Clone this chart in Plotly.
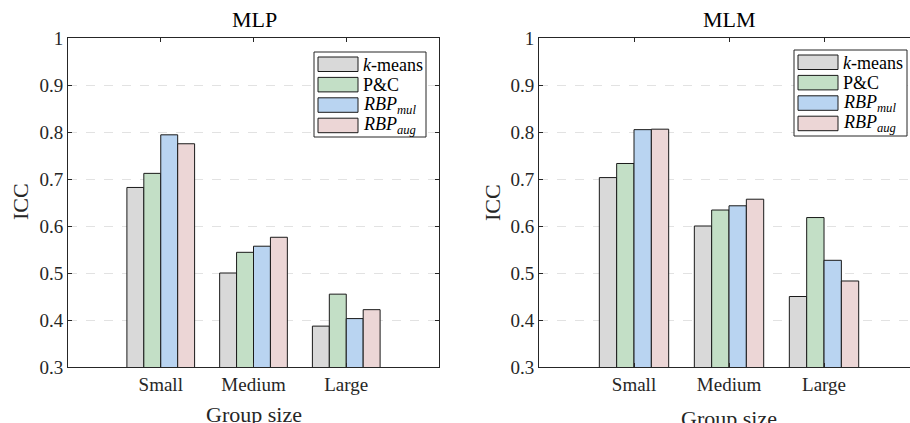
import plotly.graph_objects as go

categories = ["Small", "Medium", "Large"]
series_names = ["<i>k</i>-means", "P&amp;C", "<i>RBP</i><sub><i>mul</i></sub>", "<i>RBP</i><sub><i>aug</i></sub>"]
colors = ["#d9d9d9", "#c3dfc6", "#b9d4f1", "#ecd6d6"]

mlp_kmeans = [0.682, 0.500, 0.387]
mlp_pc = [0.712, 0.544, 0.455]
mlp_mul = [0.794, 0.557, 0.403]
mlp_aug = [0.775, 0.576, 0.422]

mlm_kmeans = [0.703, 0.600, 0.450]
mlm_pc = [0.733, 0.634, 0.618]
mlm_mul = [0.805, 0.643, 0.527]
mlm_aug = [0.806, 0.657, 0.483]

y_ticks = [0.3, 0.4, 0.5, 0.6, 0.7, 0.8, 0.9, 1.0]
y_ticktext = ["0.3", "0.4", "0.5", "0.6", "0.7", "0.8", "0.9", "1"]

W, H = 910, 423
FONT = "Liberation Serif, Times New Roman, serif"
TXT = "#262626"

fig = go.Figure()
panels = [
    ("x", "y", [mlp_kmeans, mlp_pc, mlp_mul, mlp_aug]),
    ("x2", "y2", [mlm_kmeans, mlm_pc, mlm_mul, mlm_aug]),
]
for xa, ya, vals in panels:
    for name, col, v in zip(series_names, colors, vals):
        fig.add_trace(go.Bar(
            x=categories, y=v, name=name, xaxis=xa, yaxis=ya,
            marker=dict(color=col, line=dict(color="#1a1a1a", width=1)),
            showlegend=False,
        ))

def px_x(p):
    return p / W

def px_y(p):
    return 1 - p / H

ydom = [px_y(367), px_y(38)]
axis_common = dict(
    showline=True, linecolor=TXT, linewidth=1, automargin=False,
    ticks="inside", ticklen=4, tickcolor=TXT,
    tickfont=dict(family=FONT, size=19, color=TXT),
)
fig.update_layout(
    template="none",
    width=W, height=H, autosize=False,
    margin=dict(l=0, r=0, t=0, b=0, pad=0),
    paper_bgcolor="white", plot_bgcolor="white",
    barmode="group", bargap=0.27, bargroupgap=0,
    font=dict(family=FONT, color=TXT),
    xaxis=dict(domain=[px_x(68), px_x(439)], range=[-1, 3], anchor="y",
               mirror="ticks", showgrid=False, zeroline=False, **axis_common),
    yaxis=dict(domain=ydom, range=[0.3, 1.0], anchor="x",
               tickvals=y_ticks, ticktext=y_ticktext, mirror="ticks",
               showgrid=True, gridcolor="#e2e2e2", griddash="dash", gridwidth=1,
               zeroline=False, **axis_common),
    xaxis2=dict(domain=[px_x(539), 1.0], range=[-1, 2.905], anchor="y2",
                mirror="ticks", showgrid=False, zeroline=False, **axis_common),
    yaxis2=dict(domain=ydom, range=[0.3, 1.0], anchor="x2",
                tickvals=y_ticks, ticktext=y_ticktext, mirror=False,
                showgrid=True, gridcolor="#e2e2e2", griddash="dash", gridwidth=1,
                zeroline=False, **axis_common),
)

annotations = []
shapes = []
# titles and axis labels
for title, cx, ylab_x, xlab_y in [("MLP", 254, 20, 414), ("MLM", 729, 492, 418)]:
    annotations.append(dict(text=title, x=px_x(cx), y=px_y(20), xref="paper", yref="paper",
                            showarrow=False, font=dict(family=FONT, size=22, color="black"),
                            xanchor="center", yanchor="middle"))
    annotations.append(dict(text="Group size", x=px_x(cx), y=px_y(xlab_y), xref="paper", yref="paper",
                            showarrow=False, font=dict(family=FONT, size=22, color=TXT),
                            xanchor="center", yanchor="middle"))
    annotations.append(dict(text="ICC", x=px_x(ylab_x), y=px_y(202), xref="paper", yref="paper",
                            showarrow=False, textangle=-90, font=dict(family=FONT, size=22, color=TXT),
                            xanchor="center", yanchor="middle"))

# custom legends
for bx0, bx1, by0, by1 in [(314, 426, 52, 137), (794, 907, 50, 136)]:
    shapes.append(dict(type="rect", xref="paper", yref="paper",
                       x0=px_x(bx0), x1=px_x(bx1), y0=px_y(by1), y1=px_y(by0),
                       line=dict(color=TXT, width=1), fillcolor="white", layer="above"))
    for i, (name, col) in enumerate(zip(series_names, colors)):
        top = by0 + 5 + i * 20.4
        shapes.append(dict(type="rect", xref="paper", yref="paper",
                           x0=px_x(bx0 + 4), x1=px_x(bx0 + 44),
                           y0=px_y(top + 14.5), y1=px_y(top),
                           line=dict(color="#1a1a1a", width=1), fillcolor=col, layer="above"))
        annotations.append(dict(text=name, x=px_x(bx0 + 47), y=px_y(top + 7.5),
                                xref="paper", yref="paper", showarrow=False,
                                xanchor="left", yanchor="middle",
                                font=dict(family=FONT, size=18, color="black")))

fig.update_layout(annotations=annotations, shapes=shapes)
fig.write_html(
    "out.html",
    config={"responsive": False, "displayModeBar": False},
    post_script="document.body.style.margin='0px';document.body.style.overflow='hidden';",
)
